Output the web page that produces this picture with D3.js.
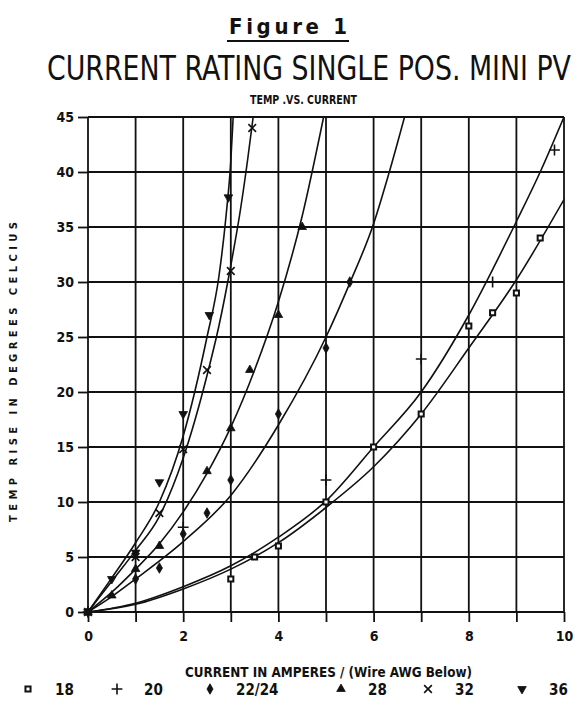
<!DOCTYPE html>
<html>
<head>
<meta charset="utf-8">
<script src="https://cdn.jsdelivr.net/npm/d3@7"></script>
<style>
  body{margin:0;background:#fff;}
  text{font-family:"Liberation Sans Narrow","DejaVu Sans Condensed","Liberation Sans",Arial,sans-serif;fill:#111;}
</style>
</head>
<body>
<div id="chart"></div>
<script>
// wire gauges (legend) and the marker used for each
var gauges = ['18', '20', '22/24', '28', '32', '36'];
var markers = ['square', 'plus', 'diamond', 'triangle', 'times', 'triangleDown'];

// measured points [amps, deg C]
var pts18 = [[0,0],[3,3],[3.5,5],[4,6],[5,10],[6,15],[7,18],[8,26],[8.5,27.2],[9,29],[9.5,34]];
var pts20 = [[0,0],[2,7.7],[5,12],[7,23],[8.5,30],[9.8,42]];
var pts22 = [[0,0],[1,3],[1.5,4],[2,7.1],[2.5,9],[3,12],[4,18],[5,24],[5.5,30]];
var pts28 = [[0,0],[0.5,1.5],[1,3.9],[1.5,6],[2.5,12.8],[3,16.7],[3.4,22],[4,27],[4.5,35]];
var pts32 = [[0,0],[1,5],[1.5,9],[2,14.8],[2.5,22],[3,31],[3.45,44]];
var pts36 = [[0,0],[0.5,3],[1,5.4],[1.5,11.8],[2,18],[2.55,27],[2.95,37.7]];

// fitted curves as they are drawn on the sheet
var fit18 = [[0,0],[1,0.7],[2,2.1],[3,3.9],[4,6.3],[5,9.5],[6,13.2],[7,18],[8,24],[9,30.2],[10,37.5]];
var fit20 = [[0,0],[1,0.8],[2,2.3],[3,4.2],[4,6.8],[5,10.1],[6,15],[7,20],[8,27],[9,35.5],[9.5,40],[10,45]];
var fit22 = [[0,0],[0.5,1.4],[1,3],[2,6.4],[3,10.6],[4,17],[5,25],[5.5,29.9],[6,35.3],[6.33,40],[6.65,45]];
var fit28 = [[0,0],[0.5,1.8],[1,3.9],[1.5,6.2],[2,9.1],[2.5,12.6],[3,16.8],[3.5,22],[4,28.2],[4.5,36],[4.95,45]];
var fit32 = [[0,0],[0.5,2.8],[1,5.6],[1.5,8.7],[2,14],[2.5,21.5],[2.75,26],[3,31.5],[3.2,36.5],[3.35,41],[3.47,45]];
var fit36 = [[0,0],[0.5,3.1],[1,6.3],[1.5,10],[2,16],[2.5,25],[2.75,30.5],[2.9,36],[3,41],[3.05,45]];

var xTicks = [0,1,2,3,4,5,6,7,8,9,10];
var yTicks = [0,5,10,15,20,25,30,35,40,45];

var series = gauges.map(function(g, i){
  return {name: g, marker: markers[i],
          pts: [pts18, pts20, pts22, pts28, pts32, pts36][i],
          fit: [fit18, fit20, fit22, fit28, fit32, fit36][i]};
});

var W = 579, H = 708;
var m = {t:117, r:15, b:96, l:88};
var w = W - m.l - m.r, h = H - m.t - m.b;

var svg = d3.select('#chart').append('svg').attr('width', W).attr('height', H);

// headings
svg.append('text').attr('x', 288).attr('y', 34).attr('text-anchor', 'middle')
  .attr('textLength', 118).attr('lengthAdjust', 'spacing')
  .style('font-size', '22px').style('font-weight', 'bold')
  .text('Figure 1');
svg.append('line').attr('x1', 227).attr('x2', 349).attr('y1', 41).attr('y2', 41)
  .style('stroke', '#111').style('stroke-width', 2);
// big title squeezed to the scan's narrow lettering
var big = svg.append('text').attr('y', 80)
  .style('font-size', '33px').text('CURRENT RATING SINGLE POS. MINI PV');
var bigW = big.node().getComputedTextLength();
big.attr('transform', 'translate(47,0) scale(' + (524 / bigW) + ',1)');
svg.append('text').attr('x', 250).attr('y', 104)
  .attr('textLength', 107).attr('lengthAdjust', 'spacingAndGlyphs')
  .style('font-size', '12px').style('font-weight', 'bold').text('TEMP .VS. CURRENT');

var plot = svg.append('g').attr('transform', 'translate(' + m.l + ',' + m.t + ')');

var scaleX = d3.scaleLinear().domain([0, 10]).range([0, w]);
var scaleY = d3.scaleLinear().domain([0, 45]).range([h, 0]);

// grid
plot.selectAll('.vgrid').data(xTicks).enter().append('line')
  .attr('x1', function(d){return scaleX(d);}).attr('x2', function(d){return scaleX(d);})
  .attr('y1', 0).attr('y2', h)
  .style('stroke', '#111').style('stroke-width', 1.8);
plot.selectAll('.hgrid').data(yTicks).enter().append('line')
  .attr('x1', 0).attr('x2', w)
  .attr('y1', function(d){return scaleY(d);}).attr('y2', function(d){return scaleY(d);})
  .style('stroke', '#111').style('stroke-width', 1.8);

// axes
var axisY = d3.axisLeft(scaleY).tickValues(yTicks).tickSize(10).tickPadding(4);
var axisX = d3.axisBottom(scaleX).tickValues(xTicks).tickSize(10).tickPadding(9)
  .tickFormat(function(d){return d % 2 === 0 ? d : '';});
var gy = plot.append('g').call(axisY);
var gx = plot.append('g').attr('transform', 'translate(0,' + h + ')').call(axisX);
[gy, gx].forEach(function(g){
  g.select('.domain').remove();
  g.selectAll('line').style('stroke', '#111').style('stroke-width', 1.8);
  g.selectAll('text').style('font-size', '14px').style('font-weight', 'bold')
    .style('font-family', '"Liberation Sans Narrow","DejaVu Sans Condensed",sans-serif').style('fill', '#111');
});

// curves
plot.append('clipPath').attr('id', 'clip').append('rect').attr('width', w).attr('height', h);
var line = d3.line().x(function(d){return scaleX(d[0]);}).y(function(d){return scaleY(d[1]);})
  .curve(d3.curveMonotoneX);
plot.append('g').attr('clip-path', 'url(#clip)').selectAll('path').data(series).enter().append('path')
  .attr('d', function(d){return line(d.fit);})
  .style('fill', 'none').style('stroke', '#111').style('stroke-width', 1.6);

// markers
function symbolFor(name){
  var t = {square: d3.symbolSquare, plus: d3.symbolPlus, diamond: d3.symbolDiamond,
           triangle: d3.symbolTriangle, times: d3.symbolTimes, triangleDown: d3.symbolTriangle}[name];
  var s = {square: 26, plus: 40, times: 40}[name] || 32;
  return d3.symbol().type(t).size(s)();
}
function styleMarker(sel, name){
  var stroked = (name === 'plus' || name === 'times' || name === 'square');
  sel.attr('d', symbolFor(name))
    .style('fill', name === 'square' ? '#fff' : (stroked ? 'none' : '#111'))
    .style('stroke', '#111').style('stroke-width', name === 'square' ? 2 : (stroked ? 1.6 : 0.8));
}
series.forEach(function(s){
  var g = plot.append('g');
  g.selectAll('path').data(s.pts).enter().append('path')
    .attr('transform', function(d){
      return 'translate(' + scaleX(d[0]) + ',' + scaleY(d[1]) + ')' + (s.marker === 'triangleDown' ? ' rotate(180)' : '');
    })
    .call(styleMarker, s.marker);
});

// axis titles
svg.append('text').attr('transform', 'translate(17,372) rotate(-90)').attr('text-anchor', 'middle')
  .attr('textLength', 300).attr('lengthAdjust', 'spacing')
  .style('font-size', '11px').style('font-weight', 'bold').text('TEMP RISE IN DEGREES CELCIUS');
svg.append('text').attr('x', 185).attr('y', 677)
  .attr('textLength', 287).attr('lengthAdjust', 'spacingAndGlyphs')
  .style('font-size', '14px').style('font-weight', 'bold').text('CURRENT IN AMPERES / (Wire AWG Below)');

// legend row
var legX = [28, 117, 210, 341, 428, 522];
var leg = svg.selectAll('.leg').data(series).enter().append('g')
  .attr('transform', function(d, i){return 'translate(' + legX[i] + ',689)';});
leg.append('path')
  .attr('transform', function(d){return d.marker === 'triangleDown' ? 'rotate(180)' : null;})
  .each(function(d){ d3.select(this).call(styleMarker, d.marker); });
leg.append('text').attr('x', function(d){return d.name.length > 2 ? 26 : 27;}).attr('y', 6)
  .style('font-size', '15px').style('font-weight', 'bold').text(function(d){return d.name;});
</script>
</body>
</html>
